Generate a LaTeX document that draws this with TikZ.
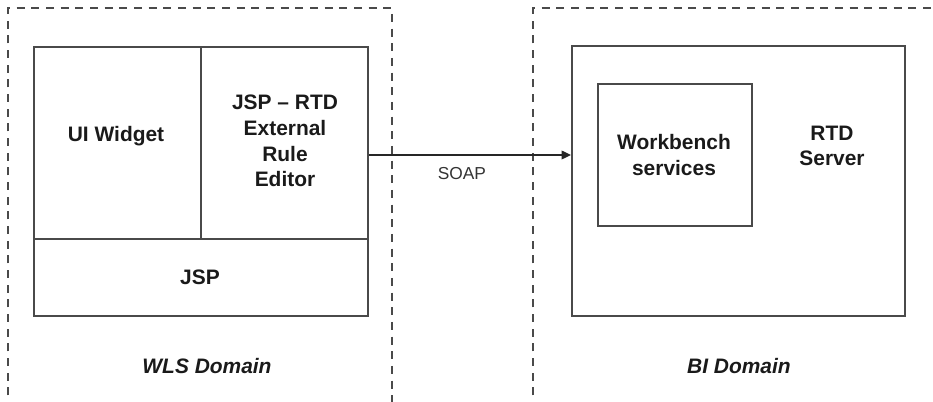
\documentclass[tikz,border=0pt]{standalone}
\usepackage{fontspec}
\setmainfont{Liberation Sans}
\usetikzlibrary{arrows.meta}
\definecolor{lc}{HTML}{4A4A4A}
\definecolor{tc}{HTML}{1A1A1A}
\newcommand\lblfont{\fontsize{15.7}{19.2}\selectfont\bfseries}
\begin{document}
\begin{tikzpicture}[x=0.75pt,y=-0.75pt,
  rect/.style 2 args={draw=lc,line width=1.4pt,inner sep=0pt,anchor=north west,
    minimum width=#1*0.75pt,minimum height=#2*0.75pt},
  domainbox/.style={draw=lc,line width=1.2pt,dash pattern=on 6pt off 5pt},
  lbl/.style={text=tc,font=\lblfont,align=center,inner sep=0pt},
  dlbl/.style={text=tc,font=\lblfont\itshape,inner sep=0pt},
  conn/.style={draw=black!85,line width=1pt,-{Triangle[length=7pt,width=6.5pt]}}
]
\useasboundingbox (0,0) rectangle (933,402);
% domains (open at the bottom / right)
\draw[domainbox] (8,410) -- (8,8) -- (392,8) -- (392,410);
\draw[domainbox] (533,410) -- (533,8) -- (940,8);
% WLS side
\node[rect={167}{192}] (uiw) at (33,46) {};
\node[rect={167}{192}] (jre) at (200,46) {};
\node[rect={334}{77}] (jsp) at (33,238) {};
\node[lbl] (uiwt) at (116,136) {UI Widget};
\node[lbl] (jret) at (285,141) {JSP -- RTD\\External\\Rule\\Editor};
\node[lbl] (jspt) at (200,277) {JSP};
\node[dlbl] (wls) at (207,366) {WLS Domain};
% BI side
\node[rect={333}{270}] (rtd) at (571,45) {};
\node[rect={154}{142}] (wb) at (597,83) {};
\node[lbl] (wbt) at (674,155) {Workbench\\services};
\node[lbl] (rtdt) at (832,146) {RTD\\Server};
\node[dlbl] (bi) at (739,366) {BI Domain};
% connector
\coordinate (s) at (jre.east |- 0,155);
\coordinate (e) at (rtd.west |- 0,155);
\draw[conn] (s) -- (e) node[pos=0.46,below=9pt,font=\fontsize{13}{15}\selectfont,text=black!80,inner sep=0pt] (soap) {SOAP};
\end{tikzpicture}
\end{document}
